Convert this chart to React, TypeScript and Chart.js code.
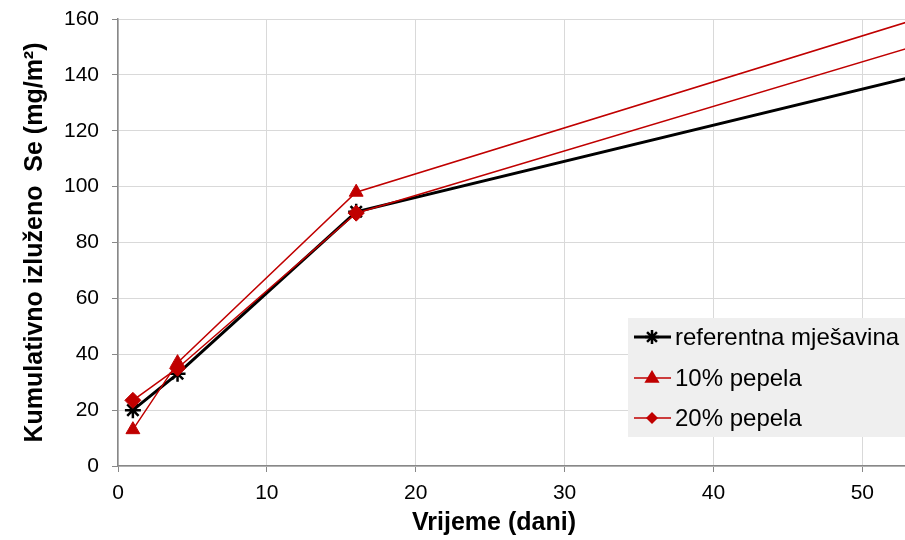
import React, { useEffect, useRef } from "react";
import { Chart, registerables } from "chart.js";

Chart.register(...registerables);

const days = [1, 4, 16, 64];
const referentna = [20, 33, 91, 153];
const pepela10 = [13, 37, 98, 177];
const pepela20 = [23.5, 35, 90.5, 167];
const seriesNames = ["referentna mješavina", "10% pepela", "20% pepela"];
const xTickValues = [0, 10, 20, 30, 40, 50];
const yTitle = "Kumulativno izluženo  Se (mg/m²)";
const xTitle = "Vrijeme (dani)";

const FONT = "'Liberation Sans', Arial, sans-serif";
const RED = "#C00000";
const CANVAS_W = 916;

function drawMarker(ctx: CanvasRenderingContext2D, style: string, r: number, x: number, y: number, color: string) {
  ctx.fillStyle = color;
  ctx.strokeStyle = color;
  ctx.beginPath();
  if (style === "triangle") {
    ctx.moveTo(x, y - r);
    ctx.lineTo(x + r * 0.95, y + r * 0.6);
    ctx.lineTo(x - r * 0.95, y + r * 0.6);
    ctx.closePath();
    ctx.fill();
  } else if (style === "rectRot") {
    ctx.moveTo(x, y - r);
    ctx.lineTo(x + r, y);
    ctx.lineTo(x, y + r);
    ctx.lineTo(x - r, y);
    ctx.closePath();
    ctx.fill();
  } else {
    ctx.lineWidth = 2.5;
    for (let a = 0; a < 4; a++) {
      const ang = (a * Math.PI) / 4;
      ctx.moveTo(x + Math.cos(ang) * r, y + Math.sin(ang) * r);
      ctx.lineTo(x - Math.cos(ang) * r, y - Math.sin(ang) * r);
    }
    ctx.stroke();
  }
}

const legendPlugin = {
  id: "insideLegend",
  afterDraw(chart: any) {
    const ctx = chart.ctx;
    ctx.save();
    const left = 628, top = 318, w = 300, h = 119;
    ctx.fillStyle = "#efefef";
    ctx.fillRect(left, top, w, h);
    const rows = [337, 378, 418];
    const styles = [
      { color: "#000000", width: 3, point: "star", r: 7 },
      { color: RED, width: 1.5, point: "triangle", r: 8 },
      { color: RED, width: 1.5, point: "rectRot", r: 6 },
    ];
    ctx.font = `24px ${FONT}`;
    ctx.textBaseline = "middle";
    rows.forEach((y, i) => {
      const s = styles[i];
      ctx.strokeStyle = s.color;
      ctx.lineWidth = s.width;
      ctx.beginPath();
      ctx.moveTo(634, y);
      ctx.lineTo(671, y);
      ctx.stroke();
      drawMarker(ctx, s.point, s.r, 652, y, s.color);
      ctx.fillStyle = "#000";
      ctx.textAlign = "left";
      ctx.fillText(seriesNames[i], 675, y + 1);
    });
    ctx.font = `bold 25px ${FONT}`;
    ctx.textAlign = "center";
    ctx.textBaseline = "middle";
    ctx.fillStyle = "#000";
    ctx.fillText(xTitle, 494, 523);
    ctx.restore();
  },
};

export default function App() {
  const ref = useRef<HTMLCanvasElement>(null);
  useEffect(() => {
    document.body.style.margin = "0";
    const mk = (ys: number[]) => days.map((d, i) => ({ x: d, y: ys[i] }));
    const chart = new Chart(ref.current!, {
      type: "line",
      data: {
        datasets: [
          {
            label: seriesNames[0],
            data: mk(referentna),
            borderColor: "#000",
            backgroundColor: "#000",
            borderWidth: 3,
            pointStyle: "star",
            pointRadius: 8,
            pointBorderWidth: 2.5,
            order: 3,
          },
          {
            label: seriesNames[1],
            data: mk(pepela10),
            borderColor: RED,
            backgroundColor: RED,
            borderWidth: 1.5,
            pointStyle: "triangle",
            pointRadius: 8,
            pointBorderWidth: 1,
            order: 2,
          },
          {
            label: seriesNames[2],
            data: mk(pepela20),
            borderColor: RED,
            backgroundColor: RED,
            borderWidth: 1.5,
            pointStyle: "rectRot",
            pointRadius: 8,
            pointBorderWidth: 1,
            order: 1,
          },
        ],
      },
      options: {
        animation: false,
        responsive: false,
        maintainAspectRatio: false,
        layout: { padding: { top: 19, right: 0, left: 0, bottom: 0 } },
        plugins: { legend: { display: false }, tooltip: { enabled: false } },
        scales: {
          x: {
            type: "linear",
            min: 0,
            max: 52.9,
            afterFit: (s: any) => {
              s.height = 74;
              s.paddingRight = 0;
              if (s._margins) s._margins.right = 0;
            },
            afterBuildTicks: (s: any) => {
              s.ticks = xTickValues.map((v) => ({ value: v }));
            },
            ticks: { color: "#000", font: { size: 21, family: FONT }, padding: 9, maxRotation: 0 },
            grid: { color: "#d9d9d9", tickColor: "#888", tickLength: 6 },
            border: { color: "#888", width: 1.5 },
          },
          y: {
            min: 0,
            max: 160,
            afterFit: (s: any) => {
              s.width = 118;
              s.paddingTop = 0;
              s.paddingBottom = 0;
            },
            ticks: { stepSize: 20, color: "#000", font: { size: 21, family: FONT }, padding: 13 },
            grid: { color: "#d9d9d9", tickColor: "#888", tickLength: 6 },
            border: { color: "#888", width: 1.5 },
            title: {
              display: true,
              text: yTitle,
              color: "#000",
              font: { size: 25, weight: "bold", family: FONT },
              padding: { top: 20, bottom: 4 },
            },
          },
        },
      } as any,
      plugins: [legendPlugin],
    });
    return () => chart.destroy();
  }, []);
  return (
    <div style={{ position: "absolute", left: 0, top: 0, width: 905, height: 540, overflow: "hidden" }}>
      <canvas ref={ref} width={CANVAS_W} height={540} style={{ width: CANVAS_W, height: 540 }} />
    </div>
  );
}
